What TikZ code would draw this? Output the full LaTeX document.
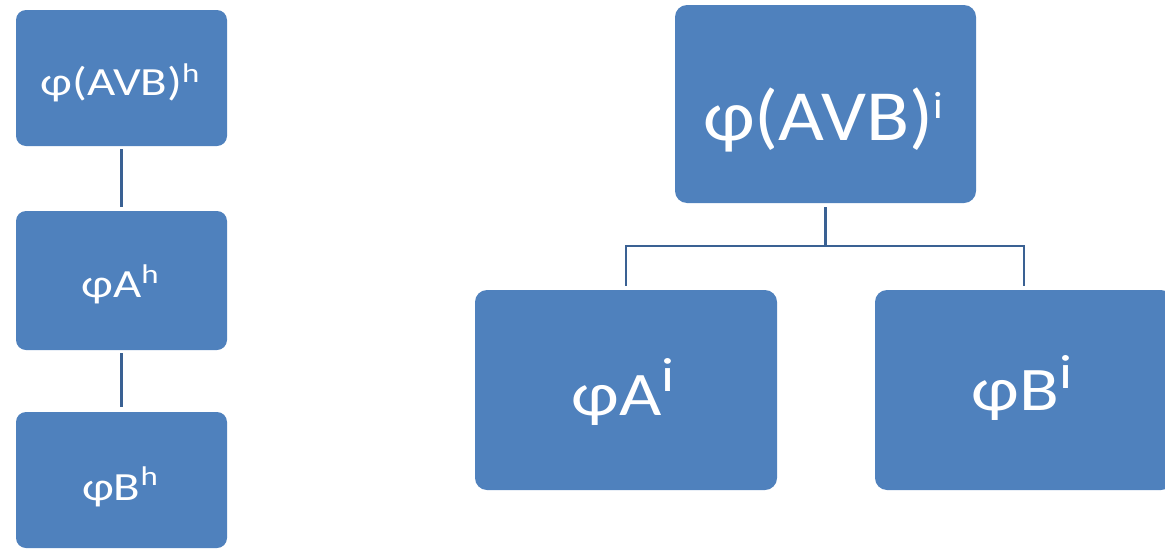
\documentclass[tikz,border=0pt]{standalone}
\usepackage{fontspec}
\setmainfont{Carlito}
\usetikzlibrary{positioning}

% fill colour of the boxes and colour of the connectors
\definecolor{boxblue}{HTML}{4F81BD}
\definecolor{linkblue}{HTML}{3A6193}

% a formula with a raised index, widened by #1:
% #2 main size, #3 body, #4 index size, #5 raise, #6 index
\newcommand{\idxtext}[6]{\scalebox{#1}[1]{{\fontsize{#2}{#2}\selectfont #3}\raisebox{#5}{\fontsize{#4}{#4}\selectfont #6}}}

\begin{document}
\begin{tikzpicture}[x=1pt,y=-1pt,
  box/.style={fill=boxblue,draw=none,rounded corners=10pt,inner sep=0pt},
  lbl/.style={text=white,anchor=base,inner sep=0pt},
  link/.style={draw=linkblue,line width=2.6pt}]
\useasboundingbox (0,0) rectangle (1165,549);

% left column
\node[box,minimum width=211pt,minimum height=136pt] (h1) at (121.5,78) {};
\node[box,minimum width=211pt,minimum height=139pt] (h2) at (121.5,280.5) {};
\node[box,minimum width=211pt,minimum height=136pt] (h3) at (121.5,480) {};
\node[lbl] (th1) at (120,95) {\idxtext{1.22}{40pt}{φ(AVB)}{27pt}{13pt}{h}};
\node[lbl] (th2) at (120,297) {\idxtext{1.22}{40pt}{φA}{27pt}{14pt}{h}};
\node[lbl] (th3) at (120,500) {\idxtext{1.22}{40pt}{φB}{27pt}{15pt}{h}};
\draw[link,shorten <=3pt,shorten >=4pt] (h1.south) -- (h2.north);
\draw[link,shorten <=3pt,shorten >=5pt] (h2.south) -- (h3.north);

% right tree
\node[box,rounded corners=12pt,minimum width=301pt,minimum height=198pt] (i0) at (825.5,104) {};
\node[box,rounded corners=12pt,minimum width=302pt,minimum height=200pt] (ia) at (626,390) {};
\node[box,rounded corners=12pt,minimum width=298pt,minimum height=200pt] (ib) at (1024,390) {};
\node[lbl] (ti0) at (823,140) {\idxtext{1.1}{72pt}{φ(AVB)}{38pt}{22pt}{i}};
\node[lbl] (tia) at (623,415) {\idxtext{1.18}{62pt}{φA}{48pt}{24pt}{i}};
\node[lbl] (tib) at (1022,410) {\idxtext{1.18}{62pt}{φB}{48pt}{22pt}{i}};
\coordinate (fork) at (825.5,246);
\draw[link,shorten <=4pt] (i0.south) -- ([yshift=-1.3pt]fork);
\draw[link,shorten <=4pt,shorten >=4pt] (ia.north) |- (fork) -| (ib.north);
\end{tikzpicture}
\end{document}
